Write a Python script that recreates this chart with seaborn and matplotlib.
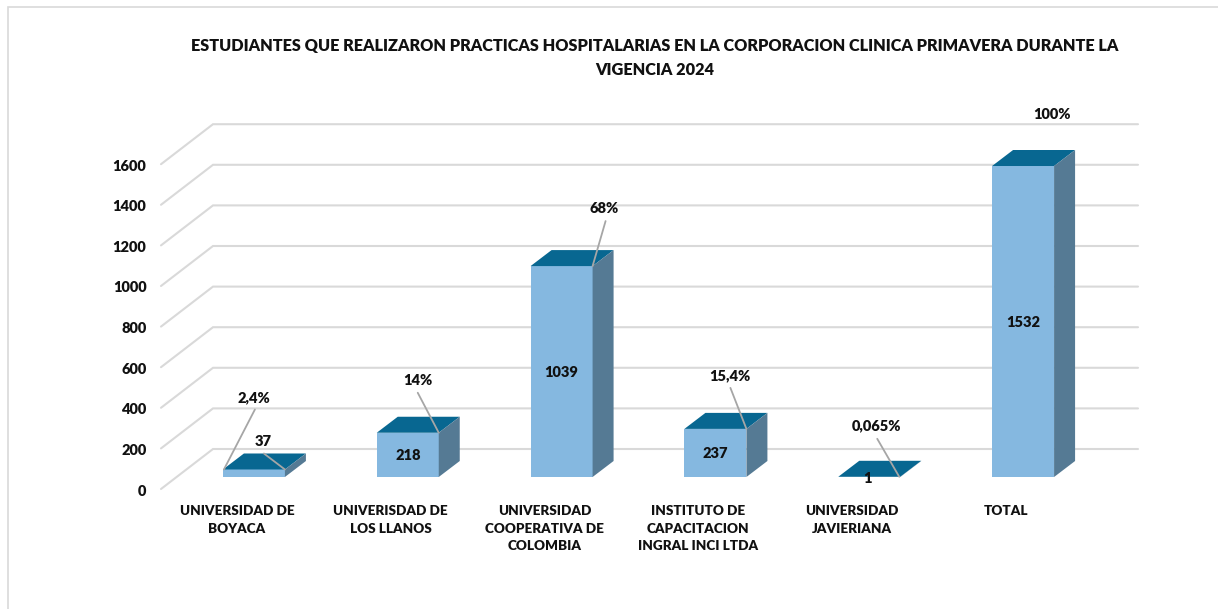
import matplotlib
matplotlib.use("Agg")
import matplotlib.pyplot as plt
import matplotlib.transforms as mtrans
from matplotlib.patches import Polygon, Rectangle
import pandas as pd
import seaborn as sns

sns.set_theme(style="white")
plt.rcParams['font.family'] = ['Lato', 'DejaVu Sans']
plt.rcParams['font.weight'] = 'heavy'

title = ("ESTUDIANTES QUE REALIZARON PRACTICAS HOSPITALARIAS EN LA CORPORACION CLINICA PRIMAVERA DURANTE LA\n"
         "VIGENCIA 2024")
categories = ["UNIVERSIDAD DE\nBOYACA", "UNIVERISDAD DE\nLOS LLANOS", "UNIVERSIDAD\nCOOPERATIVA DE\nCOLOMBIA",
              "INSTITUTO DE\nCAPACITACION\nINGRAL INCI LTDA", "UNIVERSIDAD\nJAVIERIANA", "TOTAL"]
students = [37, 218, 1039, 237, 1, 1532]
percent_labels = ["2,4%", "14%", "68%", "15,4%", "0,065%", "100%"]
y_ticks = [0, 200, 400, 600, 800, 1000, 1200, 1400, 1600]

W, H = 1218, 609
FRONT = "#85B8E0"
TOP = "#086791"
SIDE = "#557A94"
GRID = "#D9D9D9"
LEADER = "#A6A6A6"
INK = "#111111"

# pixel geometry of the fake 3d box
ax_left, ax_right, ax_base = 177, 1100, 477
px_per_cat = (ax_right - ax_left) / 6
px_per_unit = 0.203
depth_x = 21 / px_per_cat
depth_y = 16 / px_per_unit

fig = plt.figure(figsize=(W / 100, H / 100), dpi=100)
ax = fig.add_axes([ax_left / W, (H - ax_base) / H, (ax_right - ax_left) / W, 1600 * px_per_unit / H])

df = pd.DataFrame({"categoria": categories, "estudiantes": students})
sns.barplot(data=df, x="categoria", y="estudiantes", color=FRONT, saturation=1,
            width=0.403, ax=ax, zorder=3, linewidth=0)
ax.set_xlim(-0.5, 5.5)
ax.set_ylim(0, 1600)
ax.set_xlabel("")
ax.set_ylabel("")
sns.despine(ax=ax, left=True, bottom=True)

# walls: diagonal from the tick label, then flat along the back
front_dy = -12 / px_per_unit
back_dy = 28 / px_per_unit
xs = [(161 - ax_left) / px_per_cat - 0.5, (213 - ax_left) / px_per_cat - 0.5, (1138 - ax_left) / px_per_cat - 0.5]
for v in y_ticks:
    ax.plot(xs, [v + front_dy, v + back_dy, v + back_dy], color=GRID, lw=1.5,
            clip_on=False, zorder=1, solid_joinstyle="miter")

# top and side faces on every bar
bars = list(ax.patches)
for bar in bars:
    x0, w, h = bar.get_x(), bar.get_width(), bar.get_height()
    x1 = x0 + w
    ax.add_patch(Polygon([(x0, h), (x1, h), (x1 + depth_x, h + depth_y), (x0 + depth_x, h + depth_y)],
                         facecolor=TOP, edgecolor="none", clip_on=False, zorder=3))
    ax.add_patch(Polygon([(x1, 0), (x1 + depth_x, depth_y), (x1 + depth_x, h + depth_y), (x1, h)],
                         facecolor=SIDE, edgecolor="none", clip_on=False, zorder=3))

# ticks
ax.set_yticks(y_ticks)
ax.tick_params(axis="y", length=0, pad=22, labelsize=10.5, labelcolor=INK)
ax.tick_params(axis="x", length=0, pad=20.5, labelsize=9.7, labelcolor=INK)
shift_y = mtrans.Affine2D().translate(0, -13)
for lab in ax.get_yticklabels():
    lab.set_transform(lab.get_transform() + shift_y)
shift_x = mtrans.Affine2D().translate(-17, 0)
for lab in ax.get_xticklabels():
    lab.set_transform(lab.get_transform() + shift_x)
    lab.set_linespacing(1.52)

# value labels, offset in pixels from the middle of the front face
value_offsets = [(9, 32), (0, -1), (0, -1), (0, -1), (-2, -2), (0, -1)]
for bar, val, off in zip(bars, students, value_offsets):
    ax.annotate(str(val), (bar.get_x() + bar.get_width() / 2, bar.get_height() / 2), xytext=off,
                textcoords="offset pixels", ha="center", va="center", fontsize=10.5, color=INK,
                annotation_clip=False, zorder=6)

# percent labels, offset in pixels from the front right top corner
pct_offsets = [(-31, 72), (-21, 52), (12, 58), (-17, 53), (-24, 51), (-2, 52)]
line_starts = [(-30, 60), (-21, 40), (13, 45), (-16, 41), (-23, 38), None]
line_ends = [(-61, 0), (0, 0), (0, 0), (0, 0), (-1, 0), None]
for bar, txt, off, start, end in zip(bars, percent_labels, pct_offsets, line_starts, line_ends):
    tip = (bar.get_x() + bar.get_width(), bar.get_height())
    ax.annotate(txt, tip, xytext=off, textcoords="offset pixels", ha="center", va="center",
                fontsize=10.5, color=INK, annotation_clip=False, zorder=6)
    if start is None:
        continue
    ax.annotate("", tip, xytext=(start[0] - end[0], start[1] - end[1]), textcoords="offset pixels",
                xycoords=mtrans.offset_copy(ax.transData, fig=fig, x=end[0], y=end[1], units="dots"),
                arrowprops=dict(arrowstyle="-", color=LEADER, lw=1.3, shrinkA=0, shrinkB=0),
                annotation_clip=False, zorder=5)

# second leader on the first bar, going to the value label
first = bars[0]
ax.annotate("", (first.get_x() + first.get_width(), first.get_height()), xytext=(-21, 16),
            textcoords="offset pixels",
            arrowprops=dict(arrowstyle="-", color=LEADER, lw=1.3, shrinkA=0, shrinkB=0),
            annotation_clip=False, zorder=5)

fig.text(655 / W, 1 - 58 / H, title, ha="center", va="center", fontsize=11.7, color=INK,
         linespacing=1.6)

# chart frame, cut by the image edge on right and bottom
fig.add_artist(Rectangle((8 / W, -0.02), 1.1, 1.02 - 7 / H, transform=fig.transFigure,
                         facecolor="none", edgecolor=GRID, lw=1.2))

fig.savefig("out.png", dpi=100, facecolor="white")
